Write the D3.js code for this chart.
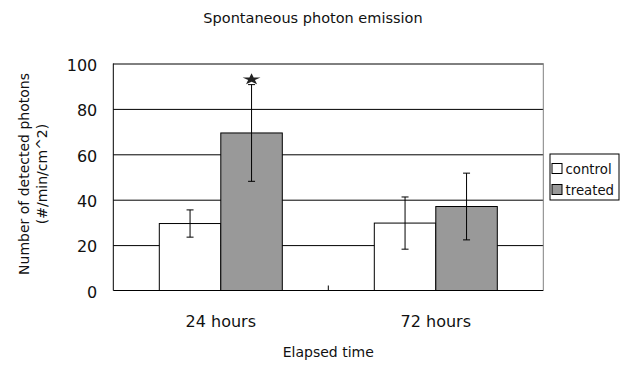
<!DOCTYPE html>
<html>
<head>
<meta charset="utf-8">
<script src="https://cdn.jsdelivr.net/npm/d3@7"></script>
<style>
    body { margin: 0; background: #fff; }
    svg text { font-family: "DejaVu Sans", sans-serif; fill: #111; }
</style>
</head>
<body>
<div id="chart"></div>
<script>
// values
const groups = ['24 hours', '72 hours'];
const seriesNames = ['control', 'treated'];
const controlMeans = [29.5, 29.7];
const controlErrors = [6.0, 11.5];
const treatedMeans = [69.4, 37.0];
const treatedErrors = [21.3, 14.7];
const yTicks = [0, 20, 40, 60, 80, 100];
const starMarks = [{group: '24 hours', series: 'treated', value: 93}];

const fills = {control: '#ffffff', treated: '#999999'};

// table built from the arrays
const rows = [];
groups.forEach((g, i) => {
    rows.push({group: g, series: 'control', mean: controlMeans[i], err: controlErrors[i]});
    rows.push({group: g, series: 'treated', mean: treatedMeans[i], err: treatedErrors[i]});
});

const width = 626, height = 365;
const plot = {left: 113.3, right: 543.3, top: 63.5, bottom: 290.5};

const svg = d3.select('#chart').append('svg')
    .attr('width', width)
    .attr('height', height);

const x0 = d3.scaleBand().domain(groups).range([plot.left, plot.right]).padding(0);
const x1 = d3.scaleBand().domain(seriesNames).range([0, x0.bandwidth()])
    .paddingInner(0).paddingOuter(0.748);
const y = d3.scaleLinear().domain([0, 100]).range([plot.bottom, plot.top]);

// gridlines
svg.append('g')
    .attr('transform', `translate(${plot.left},0)`)
    .call(d3.axisLeft(y).tickValues(yTicks.filter(t => t > 0)).tickSize(-(plot.right - plot.left)).tickFormat(''))
    .call(g => g.select('.domain').remove())
    .call(g => g.selectAll('.tick line').attr('stroke', '#000').attr('stroke-width', 1));

// frame: top/right grey
svg.append('path')
    .attr('d', `M${plot.left},${plot.top}H${plot.right}V${plot.bottom}`)
    .attr('fill', 'none')
    .attr('stroke', '#808080');

// bars
const bars = svg.append('g');
bars.selectAll('rect')
    .data(rows)
    .join('rect')
    .attr('x', d => x0(d.group) + x1(d.series))
    .attr('y', d => y(d.mean))
    .attr('width', x1.bandwidth())
    .attr('height', d => y(0) - y(d.mean))
    .attr('fill', d => fills[d.series])
    .attr('stroke', '#000')
    .attr('stroke-width', 1);

// error bars
const capW = 3.5;
const errG = svg.append('g').attr('stroke', '#000').attr('stroke-width', 1);
const cx = d => x0(d.group) + x1(d.series) + x1.bandwidth() / 2;
errG.selectAll('path')
    .data(rows)
    .join('path')
    .attr('fill', 'none')
    .attr('d', d => {
        const hi = y(d.mean + d.err), lo = y(d.mean - d.err), c = cx(d);
        return `M${c},${hi}V${lo}M${c - capW},${hi}H${c + capW}M${c - capW},${lo}H${c + capW}`;
    });

// significance star
svg.selectAll('.star')
    .data(starMarks)
    .join('path')
    .attr('class', 'star')
    .attr('d', d3.symbol().type(d3.symbolStar).size(75))
    .attr('transform', d => `translate(${x0(d.group) + x1(d.series) + x1.bandwidth() / 2},${y(d.value)}) scale(1.15,0.75)`)
    .attr('fill', '#222');

// left axis with labels
svg.append('g')
    .attr('transform', `translate(${plot.left},0)`)
    .call(d3.axisLeft(y).tickValues(yTicks).tickSize(0).tickPadding(16).tickFormat(d3.format('d')))
    .call(g => g.select('.domain').remove())
    .call(g => g.selectAll('text').attr('font-size', 16).attr('dy', '0.42em'));

svg.append('line')
    .attr('x1', plot.left).attr('x2', plot.left)
    .attr('y1', plot.top).attr('y2', plot.bottom)
    .attr('stroke', '#000');

// bottom axis
svg.append('g')
    .attr('transform', `translate(0,${plot.bottom})`)
    .call(d3.axisBottom(x0).tickSize(0).tickPadding(25))
    .call(g => g.select('.domain').remove())
    .call(g => g.selectAll('text').attr('font-size', 16));

svg.append('line')
    .attr('x1', plot.left).attr('x2', plot.right)
    .attr('y1', plot.bottom).attr('y2', plot.bottom)
    .attr('stroke', '#000');

// category separators (inward ticks)
svg.selectAll('.sep')
    .data(groups.slice(1))
    .join('line')
    .attr('class', 'sep')
    .attr('x1', d => x0(d)).attr('x2', d => x0(d))
    .attr('y1', plot.bottom).attr('y2', plot.bottom - 5)
    .attr('stroke', '#000');

// titles
svg.append('text')
    .attr('x', 313).attr('y', 23)
    .attr('text-anchor', 'middle')
    .attr('font-size', 14.5)
    .text('Spontaneous photon emission');

svg.append('text')
    .attr('x', (plot.left + plot.right) / 2).attr('y', 357)
    .attr('text-anchor', 'middle')
    .attr('font-size', 14)
    .text('Elapsed time');

const yTitle = svg.append('text')
    .attr('transform', 'translate(0,174) rotate(-90)')
    .attr('text-anchor', 'middle')
    .attr('font-size', 14);
yTitle.append('tspan').attr('x', 0).attr('y', 28.5).text('Number of detected photons');
yTitle.append('tspan').attr('x', 0).attr('y', 47).text('(#/min/cm^2)');

// legend
const legend = svg.append('g').attr('transform', 'translate(550,154)');
legend.append('rect')
    .attr('x', 0).attr('y', 0)
    .attr('width', 69).attr('height', 46)
    .attr('fill', '#fff')
    .attr('stroke', '#000');
const item = legend.selectAll('.item')
    .data(seriesNames)
    .join('g')
    .attr('class', 'item')
    .attr('transform', (d, i) => `translate(2,${9.5 + i * 21})`);
item.append('rect')
    .attr('width', 10).attr('height', 10)
    .attr('fill', d => fills[d])
    .attr('stroke', '#000');
item.append('text')
    .attr('x', 13.5).attr('y', 10)
    .attr('font-size', 13.3)
    .text(d => d);
</script>
</body>
</html>
